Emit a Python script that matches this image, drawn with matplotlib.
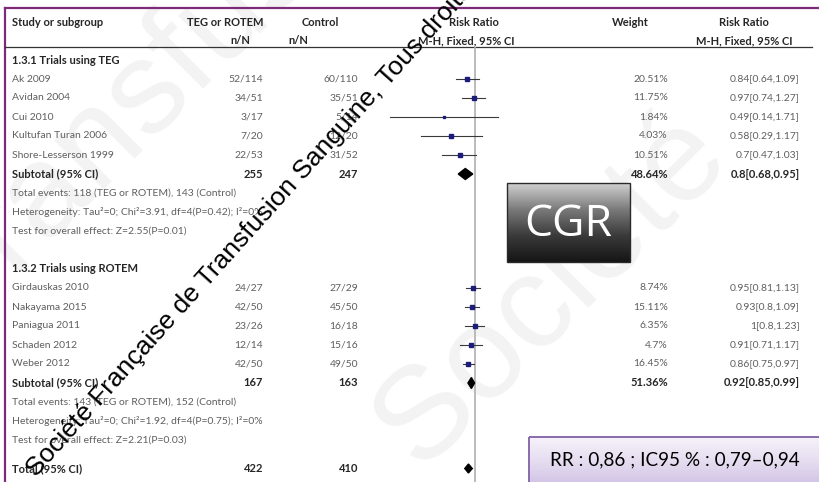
import numpy as np
import matplotlib
matplotlib.use("Agg")
import matplotlib.pyplot as plt
from matplotlib.colors import LinearSegmentedColormap
from matplotlib.patches import Rectangle, Polygon

# ---- data ----
group_titles = ["1.3.1 Trials using TEG", "1.3.2 Trials using ROTEM"]

teg_studies = ["Ak 2009", "Avidan 2004", "Cui 2010", "Kultufan Turan 2006",
               "Shore-Lesserson 1999"]
teg_exp = ["52/114", "34/51", "3/17", "7/20", "22/53"]
teg_ctl = ["60/110", "35/51", "5/14", "12/20", "31/52"]
teg_weight = [20.51, 11.75, 1.84, 4.03, 10.51]
teg_rr = [0.84, 0.97, 0.49, 0.58, 0.7]
teg_lo = [0.64, 0.74, 0.14, 0.29, 0.47]
teg_hi = [1.09, 1.27, 1.71, 1.17, 1.03]
teg_sub = dict(n_exp=255, n_ctl=247, weight=48.64, rr=0.8, lo=0.68, hi=0.95)
teg_notes = ["Total events: 118 (TEG or ROTEM), 143 (Control)",
             "Heterogeneity: Tau\u00b2=0; Chi\u00b2=3.91, df=4(P=0.42); I\u00b2=0%",
             "Test for overall effect: Z=2.55(P=0.01)"]

rot_studies = ["Girdauskas 2010", "Nakayama 2015", "Paniagua 2011",
               "Schaden 2012", "Weber 2012"]
rot_exp = ["24/27", "42/50", "23/26", "12/14", "42/50"]
rot_ctl = ["27/29", "45/50", "16/18", "15/16", "49/50"]
rot_weight = [8.74, 15.11, 6.35, 4.7, 16.45]
rot_rr = [0.95, 0.93, 1, 0.91, 0.86]
rot_lo = [0.81, 0.8, 0.8, 0.71, 0.75]
rot_hi = [1.13, 1.09, 1.23, 1.17, 0.97]
rot_sub = dict(n_exp=167, n_ctl=163, weight=51.36, rr=0.92, lo=0.85, hi=0.99)
rot_notes = ["Total events: 143 (TEG or ROTEM), 152 (Control)",
             "Heterogeneity: Tau\u00b2=0; Chi\u00b2=1.92, df=4(P=0.75); I\u00b2=0%",
             "Test for overall effect: Z=2.21(P=0.03)"]

total = dict(n_exp=422, n_ctl=410, rr=0.86, lo=0.79, hi=0.94)
summary_label = "RR : 0,86 ; IC95 % : 0,79\u20130,94"

# ---- layout ----
W, H = 819, 482
FONT = "Lato"
GREY = "#5f5f5f"
DARK = "#262626"
PURPLE = "#7d2a78"
SMALL, BOLD = 7.5, 8

fig = plt.figure(figsize=(W / 100, H / 100), dpi=100)
ax = fig.add_axes([0, 0, 1, 1])
ax.set_xlim(0, W)
ax.set_ylim(H, 0)
ax.axis("off")

# forest panel: log scale, RR = 1 at x = 475, 100 px per decade
fax = fig.add_axes([375 / W, 0, 200 / W, 1])
fax.set_xscale("log")
fax.set_xlim(0.1, 10)
fax.set_ylim(H, 0)
fax.axis("off")

X_NAME, X_EXP, X_CTL, X_W, X_CI = 12, 263, 358, 668, 800


def fmt_ci(rr, lo, hi):
    return f"{rr:g}[{lo:g},{hi:g}]"


def txt(x, y, s, bold=False, ha="left", size=None):
    if size is None:
        size = BOLD if bold else SMALL
    ax.text(x, y, s, ha=ha, va="center", fontsize=size, family=FONT,
            fontweight="bold" if bold else "normal",
            color=DARK if bold else GREY, zorder=3)


def diamond(y, rr, lo, hi, h=5.5):
    fax.add_patch(Polygon([(lo, y), (rr, y - h), (hi, y), (rr, y + h)],
                          closed=True, color="black", zorder=4))


# faint background watermark
for s, (x, y) in [("Transfusion", (-40, 330)), ("Société", (420, 470))]:
    ax.text(x, y, s, rotation=45, rotation_mode="anchor", fontsize=95,
            family="Liberation Sans", color="#f3f3f3", zorder=0)

# frame
ax.plot([5, W], [8, 8], color=PURPLE, lw=1.6, zorder=2)
ax.plot([5, 5], [8, H], color=PURPLE, lw=1.6, zorder=2)
ax.plot([5, 812], [47, 47], color="#333333", lw=0.9, zorder=2)

# headers
txt(X_NAME, 22, "Study or subgroup", bold=True)
txt(225, 22, "TEG or ROTEM", bold=True, ha="center")
txt(320, 22, "Control", bold=True, ha="center")
txt(474, 22, "Risk Ratio", bold=True, ha="center")
txt(630, 22, "Weight", bold=True, ha="center")
txt(744, 22, "Risk Ratio", bold=True, ha="center")
txt(240, 41, "n/N", bold=True, ha="center")
txt(298, 41, "n/N", bold=True, ha="center")
txt(466, 41, "M-H, Fixed, 95% CI", bold=True, ha="center")
txt(744, 41, "M-H, Fixed, 95% CI", bold=True, ha="center")

# reference line at RR = 1
fax.plot([1, 1], [48, H], color="#b5b5b5", lw=1.3, zorder=1)

STEP = 19.0
groups = [
    (group_titles[0], teg_studies, teg_exp, teg_ctl, teg_weight, teg_rr,
     teg_lo, teg_hi, teg_sub, teg_notes),
    (group_titles[1], rot_studies, rot_exp, rot_ctl, rot_weight, rot_rr,
     rot_lo, rot_hi, rot_sub, rot_notes),
]

y = 60
for gi, (title, names, ex, ct, wt, rr, lo, hi, sub, notes) in enumerate(groups):
    txt(X_NAME, y, title, bold=True)
    y += STEP
    for i in range(len(names)):
        txt(X_NAME, y, names[i])
        txt(X_EXP, y, ex[i], ha="right")
        txt(X_CTL, y, ct[i], ha="right")
        txt(X_W, y, f"{wt[i]:g}%", ha="right")
        txt(X_CI, y, fmt_ci(rr[i], lo[i], hi[i]), ha="right")
        fax.plot([lo[i], hi[i]], [y, y], color="#3a3a3a", lw=0.8, zorder=2)
        fax.plot(rr[i], y, marker="s", color="#1c1c7a",
                 ms=1.4 + 0.42 * np.sqrt(wt[i]), zorder=3)
        y += STEP
    txt(X_NAME, y, "Subtotal (95% CI)", bold=True)
    txt(X_EXP, y, str(sub["n_exp"]), bold=True, ha="right")
    txt(X_CTL, y, str(sub["n_ctl"]), bold=True, ha="right")
    txt(X_W, y, f"{sub['weight']:g}%", bold=True, ha="right")
    txt(X_CI, y, fmt_ci(sub["rr"], sub["lo"], sub["hi"]), bold=True, ha="right")
    diamond(y, sub["rr"], sub["lo"], sub["hi"])
    y += STEP
    for note in notes:
        txt(X_NAME, y, note)
        y += STEP
    y += STEP if gi == 0 else 0.5 * STEP

txt(X_NAME, y, "Total (95% CI)", bold=True)
txt(X_EXP, y, str(total["n_exp"]), bold=True, ha="right")
txt(X_CTL, y, str(total["n_ctl"]), bold=True, ha="right")
diamond(y, total["rr"], total["lo"], total["hi"], h=4.5)

# CGR badge (grey gradient box)
grad = np.linspace(0, 1, 100).reshape(-1, 1)
grey_map = LinearSegmentedColormap.from_list(
    "g", ["#d0d0d0", "#7a7a7a", "#3a3a3a", "#161616"])
ax.imshow(grad, extent=(507, 630, 262, 183), cmap=grey_map, aspect="auto", zorder=5)
ax.add_patch(Rectangle((507, 183), 123, 79, fill=False, ec="#2a2a2a", lw=1, zorder=6))
ax.text(568, 225, "CGR", ha="center", va="center", fontsize=32, family="Open Sans",
        color="white", zorder=7)

# summary box (lavender gradient)
lav_map = LinearSegmentedColormap.from_list("p", ["#f6f2fa", "#e4dbef", "#cdbde2"])
ax.imshow(grad, extent=(529, 830, 490, 437), cmap=lav_map, aspect="auto", zorder=5)
ax.add_patch(Rectangle((529, 437), 300, 60, fill=False, ec="#8a6aac", lw=1.4, zorder=6))
ax.text(550, 460, summary_label, ha="left", va="center", fontsize=13.6,
        family="Lato", color="black", zorder=7)
ax.set_xlim(0, W)
ax.set_ylim(H, 0)

# diagonal copyright watermark
fig.text(36 / W, 1 - 478 / H, "Société Française de Transfusion Sanguine, Tous droits réservés",
         rotation=48, rotation_mode="anchor", ha="left", va="baseline", fontsize=19,
         family="Liberation Sans", color="black", zorder=10)

fig.savefig("out.png", dpi=100)
